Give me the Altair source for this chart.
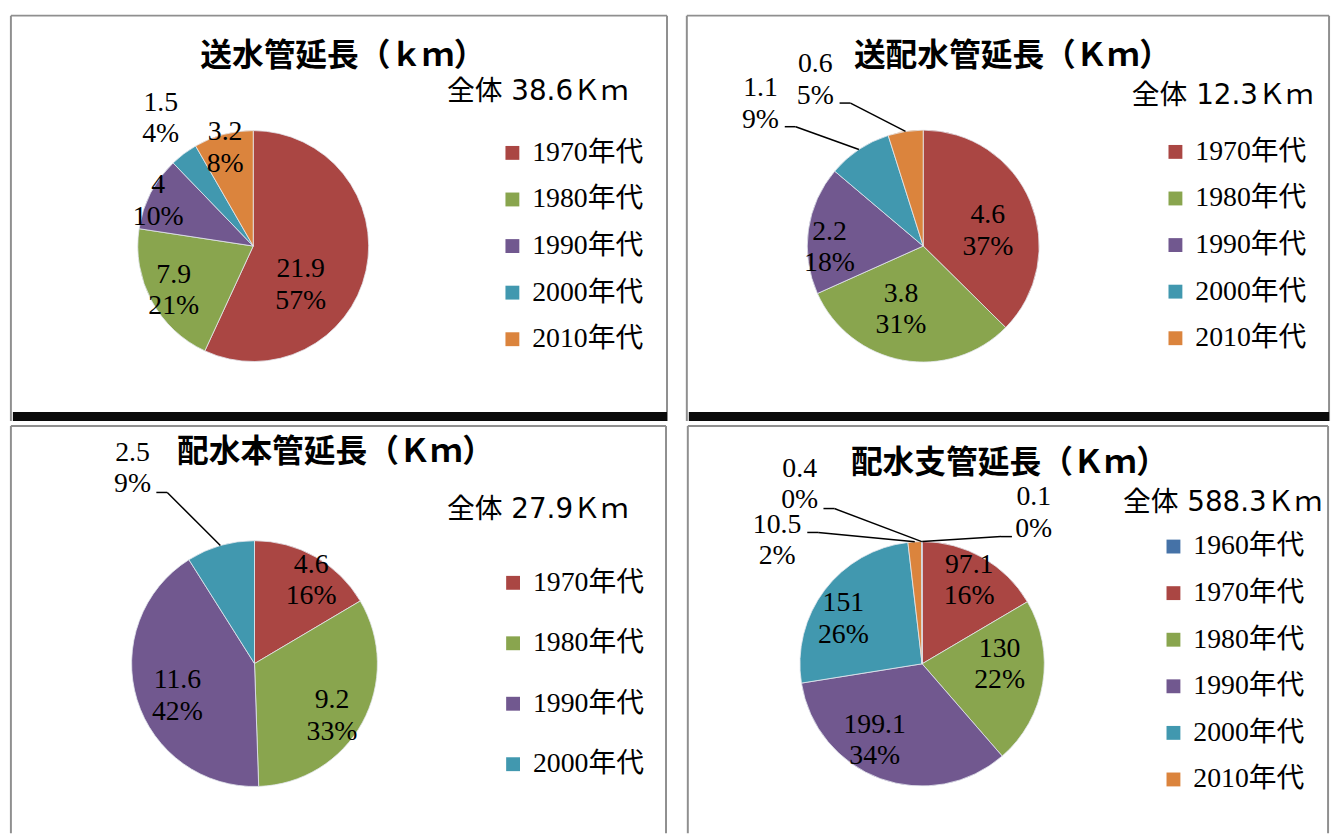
import altair as alt
import pandas as pd

# ---------------- data ----------------
COLORS = {
    "1960年代": "#4572A7",
    "1970年代": "#AA4643",
    "1980年代": "#89A54E",
    "1990年代": "#71588F",
    "2000年代": "#4198AF",
    "2010年代": "#DB843D",
    "その他": "#2C4D75",
}

TL_TITLE = "送水管延長（ｋｍ）"
TL_TOTAL = "全体 38.6Ｋｍ"
TL_CATS = ["1970年代", "1980年代", "1990年代", "2000年代", "2010年代"]
TL_VALUES = [21.9, 7.9, 4, 1.5, 3.2]
TL_PCTS = ["57%", "21%", "10%", "4%", "8%"]

TR_TITLE = "送配水管延長（Ｋｍ）"
TR_TOTAL = "全体 12.3Ｋｍ"
TR_CATS = ["1970年代", "1980年代", "1990年代", "2000年代", "2010年代"]
TR_VALUES = [4.6, 3.8, 2.2, 1.1, 0.6]
TR_PCTS = ["37%", "31%", "18%", "9%", "5%"]

BL_TITLE = "配水本管延長（Ｋｍ）"
BL_TOTAL = "全体 27.9Ｋｍ"
BL_CATS = ["1970年代", "1980年代", "1990年代", "2000年代"]
BL_VALUES = [4.6, 9.2, 11.6, 2.5]
BL_PCTS = ["16%", "33%", "42%", "9%"]

BR_TITLE = "配水支管延長（Ｋｍ）"
BR_TOTAL = "全体 588.3Ｋｍ"
BR_CATS = ["1960年代", "1970年代", "1980年代", "1990年代", "2000年代", "2010年代", "その他"]
BR_LEGEND = ["1960年代", "1970年代", "1980年代", "1990年代", "2000年代", "2010年代"]
BR_VALUES = [0.1, 97.1, 130, 199.1, 151, 10.5, 0.4]
BR_PCTS = ["0%", "16%", "22%", "34%", "26%", "2%", "0%"]

# ---------------- layout (label placement: radius px, angle shift deg, leader offsets) ----------------
LABEL_FONT = "Liberation Serif, Noto Sans CJK JP"
TITLE_FONT = "Noto Sans CJK JP"
TOTAL_FONT = "DejaVu Sans, Noto Sans CJK JP"
LINE_H = 32

PANELS = [
    dict(title=TL_TITLE, total=TL_TOTAL, cats=TL_CATS, legend=TL_CATS, values=TL_VALUES, pcts=TL_PCTS,
         w=662, h=409, cx=244.5, cy=232.5, R=116.5, title_xy=(335, 41), total_xy=(440, 77.5),
         legend_xy=(492, 124.5), row_pad=19, shadow=True,
         lr=[62, 92, 106, 159, 103], da=[27, -1, -2, 1, -1], ldx=[0, 0, 0, 0, 0], ldy=[0, 0, 0, 0, 0]),
    dict(title=TR_TITLE, total=TR_TOTAL, cats=TR_CATS, legend=TR_CATS, values=TR_VALUES, pcts=TR_PCTS,
         w=648, h=409, cx=238.5, cy=232.5, R=117, title_xy=(328.5, 41), total_xy=(449, 81),
         legend_xy=(479, 123.5), row_pad=19, shadow=True,
         lr=[67, 68, 94.5, 218, 200], da=[9.4, 9, -9, -15.2, -24.2],
         ldx=[0, 0, 0, 24.5, 24.5], ldy=[0, 0, 0, 23, 23.5]),
    dict(title=BL_TITLE, total=BL_TOTAL, cats=BL_CATS, legend=BL_CATS, values=BL_VALUES, pcts=BL_PCTS,
         w=661, h=411, cx=245.8, cy=239.8, R=124, title_xy=(327.5, 26), total_xy=(440, 84.5),
         legend_xy=(492.7, 144.3), row_pad=33, shadow=False,
         lr=[101.5, 94.3, 84.4, 232], da=[4.6, 5.3, -5.7, -15.9], ldx=[0, 0, 0, 24], ldy=[0, 0, 0, 24]),
    dict(title=BR_TITLE, total=BR_TOTAL, cats=BR_CATS, legend=BR_LEGEND, values=BR_VALUES, pcts=BR_PCTS,
         w=646, h=411, cx=236.4, cy=240, R=123.3, title_xy=(324.5, 37.5), total_xy=(439, 78),
         legend_xy=(476, 107.7), row_pad=19, shadow=False,
         lr=[189.2, 96.5, 78.2, 91.1, 91.3, 191.9, 219.1], da=[36.5, -0.3, -8.6, 11.7, -7.6, -46.2, -34.2],
         ldx=[-22, 0, 0, 0, 0, 30.4, 24], ldy=[23.7, 0, 0, 0, 0, -8.3, 24.3]),
]

ONE = pd.DataFrame({"k": [0]})
FRAME_COLOR = "#8f8f8f"


def panel(p):
    cx, cy, R = p["cx"], p["cy"], p["R"]
    df = pd.DataFrame({
        "cat": p["cats"],
        "value": p["values"],
        "idx": list(range(len(p["cats"]))),
        "txt": [f"{v}\n{q}" for v, q in zip(p["values"], p["pcts"])],
        "lr": p["lr"], "da": p["da"], "ldx": p["ldx"], "ldy": p["ldy"],
    })

    arcs = alt.Chart(df).mark_arc(outerRadius=R, x=cx, y=cy, stroke="#e4e8ee", strokeWidth=0.8).encode(
        theta=alt.Theta("value:Q", stack=True),
        color=alt.Color(
            "cat:N",
            scale=alt.Scale(domain=p["cats"], range=[COLORS[c] for c in p["cats"]]),
            title=None,
            legend=alt.Legend(
                orient="none", legendX=p["legend_xy"][0], legendY=p["legend_xy"][1],
                direction="vertical", values=p["legend"], symbolType="square", symbolSize=196,
                symbolStrokeWidth=0, symbolOpacity=1, labelFont=LABEL_FONT, labelFontSize=28,
                labelColor="black", labelOffset=6, rowPadding=p["row_pad"], padding=0,
                labelLimit=200,
            ),
        ),
        order=alt.Order("idx:Q", sort="ascending"),
    )

    base = (
        alt.Chart(df)
        .transform_joinaggregate(total="sum(value)")
        .transform_window(cum="sum(value)", sort=[alt.SortField("idx", order="ascending")], frame=[None, 0])
        .transform_calculate(
            mid="2*PI*(datum.cum - datum.value/2)/datum.total",
            ang="datum.mid + datum.da*PI/180",
            lx=f"{cx} + datum.lr*sin(datum.ang)",
            ly=f"{cy} - datum.lr*cos(datum.ang)",
            ex=f"{cx} + {R}*sin(datum.mid)",
            ey=f"{cy} - {R}*cos(datum.mid)",
        )
        .transform_calculate(
            endx="datum.lx + datum.ldx",
            endy="datum.ly + datum.ldy",
            ty=f"datum.ly - {LINE_H / 2}",
        )
        .transform_calculate(elbx="datum.endx + (datum.ldx > 0 ? 11 : -11)")
    )

    labels = base.mark_text(
        font=LABEL_FONT, fontSize=28, lineBreak="\n", lineHeight=LINE_H,
        align="center", baseline="middle", color="black",
    ).encode(
        x=alt.X("lx:Q", scale=None, axis=None),
        y=alt.Y("ty:Q", scale=None, axis=None),
        text="txt:N",
    )

    lead = base.transform_filter("datum.ldx != 0")
    diag = lead.mark_rule(color="black", strokeWidth=1.5).encode(
        x=alt.X("ex:Q", scale=None, axis=None),
        y=alt.Y("ey:Q", scale=None, axis=None),
        x2="elbx:Q",
        y2="endy:Q",
    )
    horiz = lead.mark_rule(color="black", strokeWidth=1.5).encode(
        x=alt.X("elbx:Q", scale=None, axis=None),
        x2="endx:Q",
        y=alt.Y("endy:Q", scale=None, axis=None),
    )

    title = alt.Chart(pd.DataFrame({"t": [p["title"]]})).mark_text(
        font=TITLE_FONT, fontSize=32, fontWeight="bold", align="center", baseline="middle", color="black"
    ).encode(text="t:N", x=alt.value(p["title_xy"][0]), y=alt.value(p["title_xy"][1]))

    total = alt.Chart(pd.DataFrame({"t": [p["total"]]})).mark_text(
        font=TOTAL_FONT, fontSize=28, align="left", baseline="middle", color="black"
    ).encode(text="t:N", x=alt.value(p["total_xy"][0]), y=alt.value(p["total_xy"][1]))

    w, h = p["w"], p["h"]
    frame = [
        alt.Chart(ONE).mark_rule(color=FRAME_COLOR, strokeWidth=2).encode(
            x=alt.value(0), y=alt.value(0), y2=alt.value(h)),
        alt.Chart(ONE).mark_rule(color=FRAME_COLOR, strokeWidth=2).encode(
            x=alt.value(w), y=alt.value(0), y2=alt.value(h)),
        alt.Chart(ONE).mark_rule(color=FRAME_COLOR, strokeWidth=2).encode(
            y=alt.value(0), x=alt.value(0), x2=alt.value(w)),
    ]
    layers = frame + [arcs, labels, diag, horiz, title, total]
    if p["shadow"]:
        layers.append(
            alt.Chart(ONE).mark_rule(color="#0a0a0a", strokeWidth=9).encode(
                y=alt.value(h - 4.5), x=alt.value(2), x2=alt.value(w))
        )
    return alt.layer(*layers).properties(width=w, height=h)


tl, tr, bl, br = [panel(p) for p in PANELS]

top = alt.hconcat(tl, tr, spacing=12).resolve_scale(
    color="independent", theta="independent").resolve_legend(color="independent")
bottom = alt.hconcat(bl, br, spacing=20).resolve_scale(
    color="independent", theta="independent").resolve_legend(color="independent")

chart = (
    alt.vconcat(top, bottom, spacing=3)
    .resolve_scale(color="independent", theta="independent")
    .resolve_legend(color="independent")
    .properties(padding={"left": 8, "top": 11, "right": 1, "bottom": 0}, background="white")
    .configure_view(strokeWidth=0)
)

chart.save("out.html", embed_options={"renderer": "svg", "actions": False})
